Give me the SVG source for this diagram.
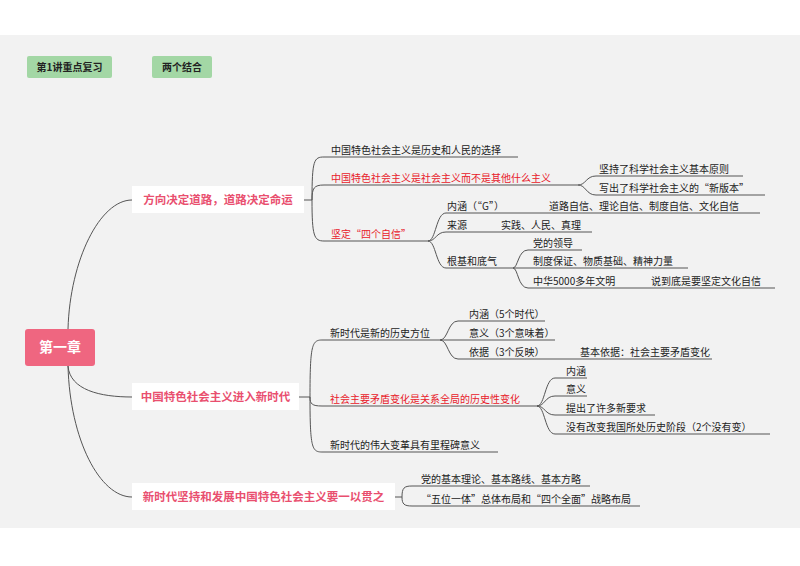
<svg xmlns="http://www.w3.org/2000/svg" width="800" height="566" viewBox="0 0 800 566">
<style>
text{font-family:"Noto Sans CJK SC","Noto Sans",sans-serif;font-size:10px;fill:#222}
.r{fill:#e8202a}
.b{font-size:11.5px;font-weight:bold;fill:#e94f6f}
.g{font-size:10px;font-weight:bold;fill:#222}
.c path{fill:none;stroke:#555;stroke-width:1}
</style>
<rect width="800" height="566" fill="#fff"/>
<rect x="0" y="35" width="800" height="493" fill="#f2f2f2"/>
<g id="tag1"><rect x="27" y="56" width="85" height="22" rx="2" fill="#a3d7a5"/><text class="g" x="69.5" y="71" text-anchor="middle">第1讲重点复习</text></g>
<g id="tag2"><rect x="152" y="56" width="60" height="22" rx="2" fill="#a3d7a5"/><text class="g" x="182" y="71" text-anchor="middle">两个结合</text></g>
<g class="c" id="connectors">
<path d="M68 329 C70 260 100 200 132 200"/>
<path d="M68 366 C70 390 100 397 132 397"/>
<path d="M68 366 C70 440 100 497 132 497"/>
<path d="M304 200 H312"/>
<path d="M312 200 C312 160 314 157 324 157 H518"/>
<path d="M312 200 C312 188 314 185 324 185 H578"/>
<path d="M312 200 C312 236 314 241 324 241 H428"/>
<path d="M578 185 C586 185 586 176 596 176 H743"/>
<path d="M578 185 C586 185 586 195 596 195 H765"/>
<path d="M428 241 C436 241 436 213 446 213 H760"/>
<path d="M428 241 C436 241 436 232 446 232 H592"/>
<path d="M428 241 C436 241 436 268 446 268 H513"/>
<path d="M513 268 C518 268 518 250 528 250 H582"/>
<path d="M513 268 H688"/>
<path d="M513 268 C518 268 518 288 528 288 H775"/>
<path d="M299 397 H310"/>
<path d="M310 397 C310 345 312 340 322 340 H440"/>
<path d="M310 397 C310 404 312 406 322 406 H537"/>
<path d="M310 397 C310 448 312 452 322 452 H498"/>
<path d="M440 340 C448 340 448 321 458 321 H545"/>
<path d="M440 340 H555"/>
<path d="M440 340 C448 340 448 359 458 359 H712"/>
<path d="M537 406 C545 406 545 378 555 378 H587"/>
<path d="M537 406 C545 406 545 396 555 396 H587"/>
<path d="M537 406 C545 406 545 415 555 415 H655"/>
<path d="M537 406 C545 406 545 434 555 434 H770"/>
<path d="M395 497 H402"/>
<path d="M402 497 C402 488 404 486 412 486 H590"/>
<path d="M402 497 C402 504 404 506 412 506 H640"/>
</g>
<g id="root"><rect x="25" y="329" width="70" height="37" rx="3" fill="#ef6680"/><text x="60" y="352" text-anchor="middle" style="font-size:14px;font-weight:bold;fill:#fff">第一章</text></g>
<g id="b1"><rect x="132" y="186" width="172" height="27" fill="#fff"/><text class="b" x="218" y="204" text-anchor="middle">方向决定道路，道路决定命运</text></g>
<g id="b2"><rect x="132" y="383" width="167" height="27" fill="#fff"/><text class="b" x="215.5" y="401" text-anchor="middle">中国特色社会主义进入新时代</text></g>
<g id="b3"><rect x="132" y="483" width="263" height="27" fill="#fff"/><text class="b" x="263.5" y="501" text-anchor="middle">新时代坚持和发展中国特色社会主义要一以贯之</text></g>
<g id="leaves">
<text x="331" y="154">中国特色社会主义是历史和人民的选择</text>
<text class="r" x="331" y="182">中国特色社会主义是社会主义而不是其他什么主义</text>
<text class="r" x="331" y="238">坚定“四个自信”</text>
<text x="599" y="173">坚持了科学社会主义基本原则</text>
<text x="599" y="192">写出了科学社会主义的“新版本”</text>
<text x="447" y="210">内涵（“G”）</text>
<text x="549" y="210">道路自信、理论自信、制度自信、文化自信</text>
<text x="447" y="229">来源</text>
<text x="501" y="229">实践、人民、真理</text>
<text x="447" y="265">根基和底气</text>
<text x="533" y="247">党的领导</text>
<text x="533" y="265">制度保证、物质基础、精神力量</text>
<text x="533" y="285">中华5000多年文明</text>
<text x="651" y="285">说到底是要坚定文化自信</text>
<text x="330" y="337">新时代是新的历史方位</text>
<text x="469" y="318">内涵（5个时代）</text>
<text x="469" y="337">意义（3个意味着）</text>
<text x="469" y="356">依据（3个反映）</text>
<text x="580" y="356">基本依据：社会主要矛盾变化</text>
<text class="r" x="330" y="403">社会主要矛盾变化是关系全局的历史性变化</text>
<text x="566" y="375">内涵</text>
<text x="566" y="393">意义</text>
<text x="566" y="412">提出了许多新要求</text>
<text x="566" y="431">没有改变我国所处历史阶段（2个没有变）</text>
<text x="330" y="449">新时代的伟大变革具有里程碑意义</text>
<text x="421" y="483">党的基本理论、基本路线、基本方略</text>
<text x="421" y="503">“五位一体”总体布局和“四个全面”战略布局</text>
</g>
</svg>
